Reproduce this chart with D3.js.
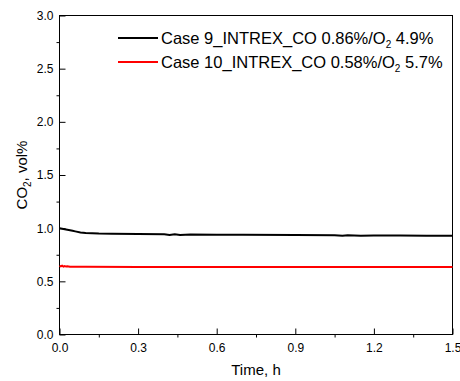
<!DOCTYPE html>
<html><head><meta charset="utf-8">
<script src="https://cdn.jsdelivr.net/npm/d3@7"></script>
<style>body{margin:0;background:#fff}svg{font-family:"Liberation Sans",Arial,sans-serif}</style>
</head><body>
<svg id="c" width="460" height="381"></svg>
<script>
const xTicks = [0.0, 0.3, 0.6, 0.9, 1.2, 1.5];
const yTicks = [0.0, 0.5, 1.0, 1.5, 2.0, 2.5, 3.0];
const seriesNames = ["Case 9_INTREX_CO 0.86%/O", "Case 10_INTREX_CO 0.58%/O"];
const seriesO2 = [" 4.9%", " 5.7%"];
const seriesColors = ["#000000", "#ff0000"];
const case9Time = [0.0, 0.01, 0.02, 0.03, 0.05, 0.06, 0.08, 0.1, 0.15, 0.2, 0.3, 0.4, 0.42, 0.44, 0.46, 0.5, 0.6, 0.7, 0.9, 1.05, 1.08, 1.1, 1.15, 1.2, 1.3, 1.4, 1.5];
const case9CO2 = [1.0, 0.995, 0.99, 0.985, 0.975, 0.97, 0.96, 0.955, 0.95, 0.948, 0.945, 0.942, 0.935, 0.943, 0.936, 0.94, 0.938, 0.937, 0.935, 0.934, 0.928, 0.933, 0.929, 0.932, 0.93, 0.929, 0.928];
const case10Time = [0.0, 0.005, 0.01, 0.015, 0.02, 0.025, 0.03, 0.04, 0.1, 0.3, 0.6, 0.9, 1.2, 1.5];
const case10CO2 = [0.645, 0.64, 0.647, 0.638, 0.644, 0.639, 0.642, 0.637, 0.636, 0.635, 0.635, 0.635, 0.635, 0.635];

const svg = d3.select("#c");
const L = 59.5, R = 452.5, T = 15.5, B = 334.5;
const x = d3.scaleLinear().domain([0, 1.5]).range([L, R]);
const y = d3.scaleLinear().domain([0, 3]).range([B, T]);

// frame
svg.append("rect").attr("x", L).attr("y", T).attr("width", R - L).attr("height", B - T)
  .attr("fill", "none").attr("stroke", "#000").attr("stroke-width", 1);

// axes: major inward, minor outward
const xMinor = d3.range(0.15, 1.5, 0.3);
const yMinor = d3.range(0.25, 3, 0.5);
const xAx = svg.append("g").attr("transform", `translate(0,${B})`)
  .call(d3.axisBottom(x).tickValues(xTicks).tickSize(-6).tickPadding(9).tickFormat(d3.format(".1f")));
const xAxMin = svg.append("g").attr("transform", `translate(0,${B})`)
  .call(d3.axisBottom(x).tickValues(xMinor).tickSize(3).tickFormat(""));
const yAx = svg.append("g").attr("transform", `translate(${L},0)`)
  .call(d3.axisLeft(y).tickValues(yTicks).tickSize(-6).tickPadding(6).tickFormat(d3.format(".1f")));
const yAxMin = svg.append("g").attr("transform", `translate(${L},0)`)
  .call(d3.axisLeft(y).tickValues(yMinor).tickSize(3).tickFormat(""));
[xAx, xAxMin, yAx, yAxMin].forEach(g => {
  g.select(".domain").remove();
  g.selectAll("text").attr("font-size", 12).attr("fill", "#000").style("font-family", '"Liberation Sans",Arial,sans-serif');
  g.selectAll("line").attr("stroke", "#000");
});

// lines
const line = d3.line().x(d => x(d[0])).y(d => y(d[1]));
const s9 = case9Time.map((t, i) => [t, case9CO2[i]]);
const s10 = case10Time.map((t, i) => [t, case10CO2[i]]);
svg.append("path").datum(s10).attr("d", line).attr("fill", "none").attr("stroke", seriesColors[1]).attr("stroke-width", 2);
svg.append("path").datum(s9).attr("d", line).attr("fill", "none").attr("stroke", seriesColors[0]).attr("stroke-width", 2);

// legend
seriesNames.forEach((n, i) => {
  const ly = 38 + i * 24;
  svg.append("line").attr("x1", 118).attr("x2", 158).attr("y1", ly).attr("y2", ly)
    .attr("stroke", seriesColors[i]).attr("stroke-width", 2);
  const t = svg.append("text").attr("x", 161).attr("y", ly + 6).attr("font-size", 16.5);
  t.append("tspan").text(n);
  t.append("tspan").attr("font-size", 10).attr("dy", 4).text("2");
  t.append("tspan").attr("dy", -4).text(seriesO2[i]);
});

// axis titles
svg.append("text").attr("x", (L + R) / 2).attr("y", 375).attr("text-anchor", "middle").attr("font-size", 15).text("Time, h");
const yt = svg.append("text").attr("transform", `translate(27,${(T + B) / 2}) rotate(-90)`).attr("text-anchor", "middle").attr("font-size", 15);
yt.append("tspan").text("CO");
yt.append("tspan").attr("font-size", 10).attr("dy", 4).text("2");
yt.append("tspan").attr("dy", -4).text(", vol%");
</script>
</body></html>
